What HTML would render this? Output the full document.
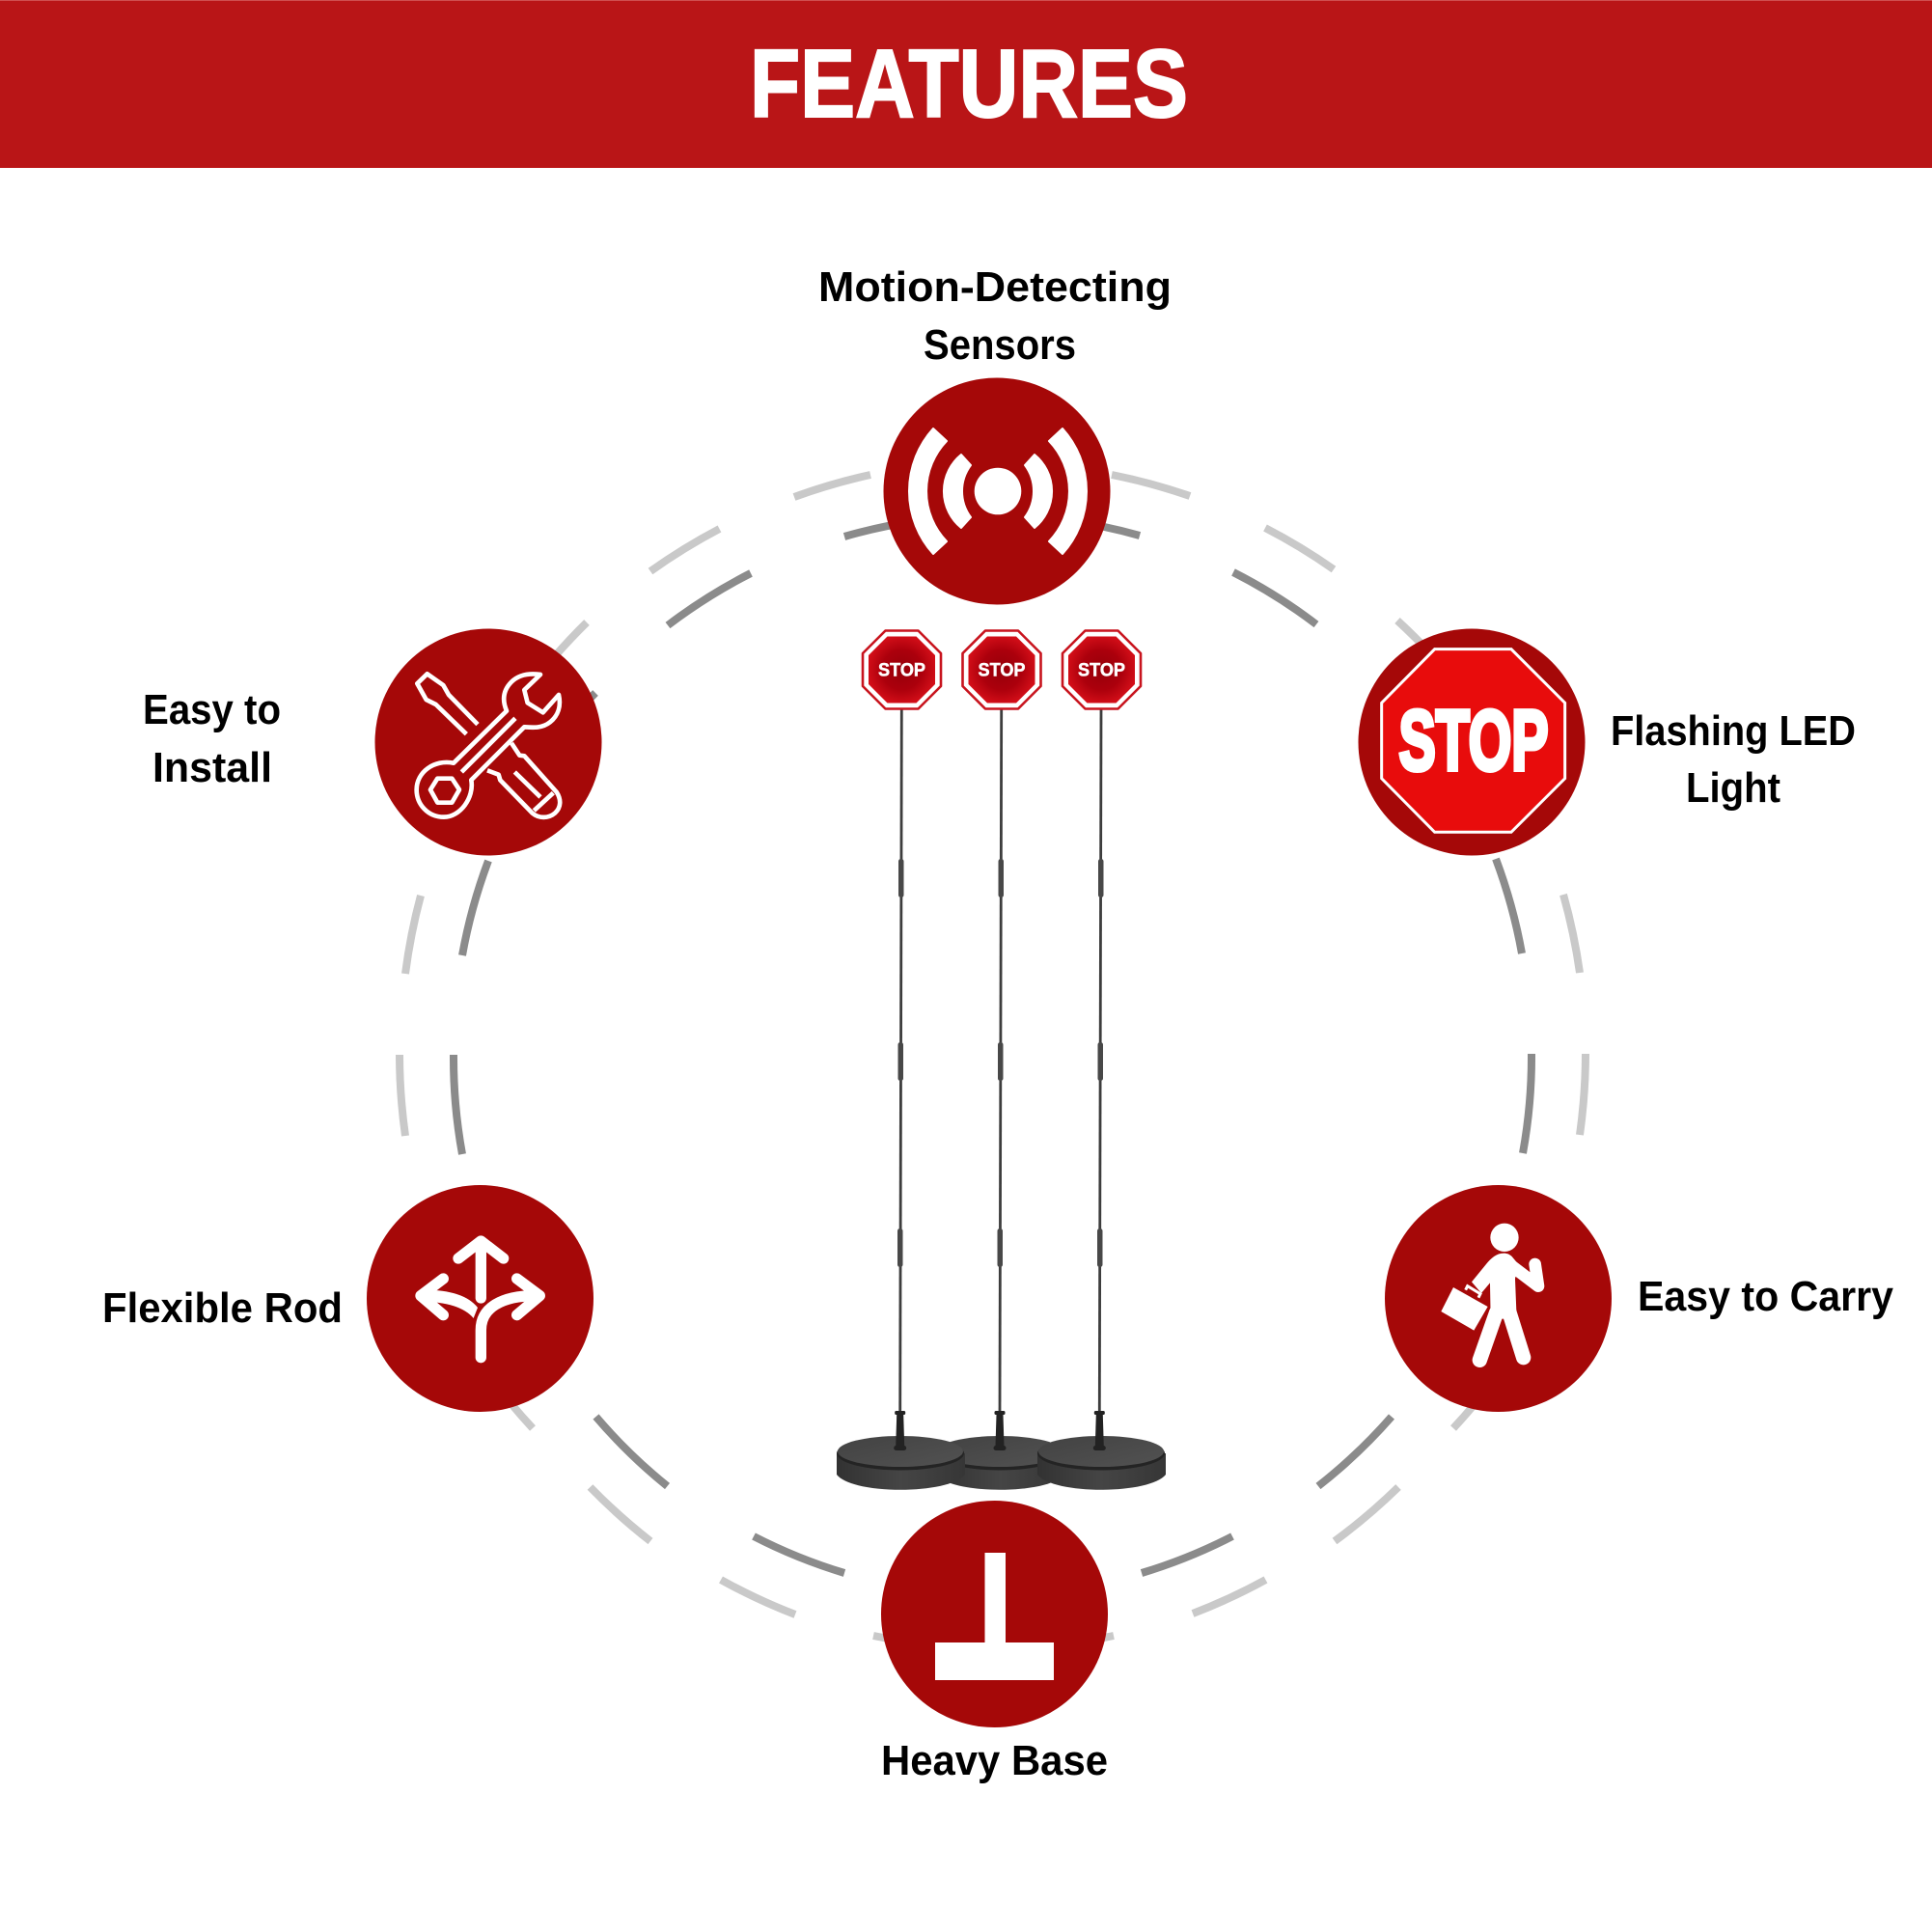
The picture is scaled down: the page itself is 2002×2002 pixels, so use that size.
<!DOCTYPE html>
<html><head><meta charset="utf-8"><title>Features</title>
<style>html,body{margin:0;padding:0;background:#fff}svg{display:block}text{font-family:"Liberation Sans",Arial,sans-serif;font-weight:700}</style>
</head><body>
<svg xmlns="http://www.w3.org/2000/svg" width="2002" height="2002" viewBox="0 0 2002 2002">
<defs>
<radialGradient id="sg" cx="50%" cy="50%" r="55%"><stop offset="0" stop-color="#96000a"/><stop offset=".55" stop-color="#ac000c"/><stop offset="1" stop-color="#d8101a"/></radialGradient>
<linearGradient id="side" x1="0" x2="1" y1="0" y2="0"><stop offset="0" stop-color="#323232"/><stop offset=".5" stop-color="#454545"/><stop offset="1" stop-color="#363636"/></linearGradient>
<linearGradient id="topb" x1="0" x2="1" y1="0" y2="1"><stop offset="0" stop-color="#424242"/><stop offset="1" stop-color="#525252"/></linearGradient>
<g id="sign">
<polygon points="-17,-40.5 17,-40.5 40.5,-17 40.5,17 17,40.5 -17,40.5 -40.5,17 -40.5,-17" fill="#fff" stroke="#c8141e" stroke-width="2.6" stroke-linejoin="round"/>
<polygon points="-15,-34.5 15,-34.5 34.5,-15 34.5,15 15,34.5 -15,34.5 -34.5,15 -34.5,-15" fill="url(#sg)"/>
<text x="0" y="6.7" text-anchor="middle" font-size="19" fill="#fff" stroke="#fff" stroke-width=".5" textLength="49" lengthAdjust="spacingAndGlyphs">STOP</text>
</g>
<g id="collar" fill="#222">
<rect x="-5.5" y="0" width="11" height="4" rx="1.5"/><path d="M-3.5,4 H3.5 L4.5,37 H-4.5Z"/><rect x="-6.5" y="36" width="13" height="5" rx="2.5"/>
</g>
<g id="base">
<path d="M-66,18 V40 C-50,61 50,61 67,40 V18 Z" fill="url(#side)"/>
<ellipse cx="0" cy="18" rx="66" ry="17.5" fill="#242424"/>
<ellipse cx="0" cy="16" rx="65" ry="16" fill="url(#topb)"/>
</g>
</defs>

<rect width="2002" height="174" fill="#b91517"/>
<rect width="2002" height="1" fill="#cf4f50"/>
<text x="777" y="121" font-size="100" fill="#fff" stroke="#fff" stroke-width="2" textLength="454" lengthAdjust="spacingAndGlyphs">FEATURES</text>

<!-- outer ring -->
<g fill="none" stroke="#c9c9c9" stroke-width="8">
<path d="M823,515 A614,614 0 0 1 902,492"/>
<path d="M1152,492 A614,614 0 0 1 1233,514"/>
<path d="M674,592 A614,614 0 0 1 745.5,548"/>
<path d="M1311,547 A614,614 0 0 1 1382,590"/>
<path d="M575,680 A614,614 0 0 1 608,645"/>
<path d="M1448,643 A614,614 0 0 1 1485,680"/>
<path d="M420,1009 A614,614 0 0 1 436,928"/>
<path d="M420,1177 A614,614 0 0 1 414,1093"/>
<path d="M1620,927 A614,614 0 0 1 1637,1008"/>
<path d="M1643,1092 A614,614 0 0 1 1637,1176"/>
<path d="M552,1480 A614,614 0 0 1 530,1455"/>
<path d="M674,1597 A614,614 0 0 1 611.5,1541"/>
<path d="M824,1673 A614,614 0 0 1 747,1637"/>
<path d="M1154,1695 A614,614 0 0 1 905,1695"/>
<path d="M1311.5,1637 A614,614 0 0 1 1236,1672"/>
<path d="M1449,1541 A614,614 0 0 1 1383,1597"/>
<path d="M1528,1455 A614,614 0 0 1 1506,1480"/>
</g>
<!-- inner ring -->
<g fill="none" stroke="#8b8b8b" stroke-width="8">
<path d="M875,556 A558,558 0 0 1 1181,555"/>
<path d="M692,648 A558,558 0 0 1 778,594"/>
<path d="M1278,593 A558,558 0 0 1 1364,647"/>
<path d="M560,785 A558,558 0 0 1 617,718"/>
<path d="M479,990 A558,558 0 0 1 506,892"/>
<path d="M479,1196 A558,558 0 0 1 470,1093"/>
<path d="M1550,890 A558,558 0 0 1 1577,988"/>
<path d="M1587,1092 A558,558 0 0 1 1578,1195"/>
<path d="M691.5,1540 A558,558 0 0 1 617.5,1468"/>
<path d="M875,1630 A558,558 0 0 1 781,1592"/>
<path d="M1277,1592 A558,558 0 0 1 1183,1630"/>
<path d="M1442,1468 A558,558 0 0 1 1366,1540"/>
</g>

<!-- circles -->
<g fill="#a50808">
<circle cx="1033" cy="509" r="117.5"/>
<circle cx="506" cy="769" r="117.5"/>
<circle cx="1525" cy="769" r="117.5"/>
<circle cx="497.5" cy="1345.5" r="117.5"/>
<circle cx="1552.5" cy="1345.5" r="117.5"/>
<circle cx="1030.5" cy="1672.5" r="117.5"/>
</g>

<!-- sensor icon -->
<circle cx="1034" cy="509" r="24.3" fill="#fff"/>
<g fill="#fff" stroke="#fff" stroke-width="2" stroke-linejoin="round">
<path d="M967,444 L981,457 A75,75 0 0 0 981,561 L967,574 A97,97 0 0 1 967,444 Z"/>
<path d="M1101,444 L1087,457 A75,75 0 0 1 1087,561 L1101,574 A97,97 0 0 0 1101,444 Z"/>
<path d="M996,471 L1006,482 A45,45 0 0 0 1006,536 L996,547 A49,49 0 0 1 996,471 Z"/>
<path d="M1072,471 L1062,482 A45,45 0 0 1 1062,536 L1072,547 A49,49 0 0 0 1072,471 Z"/>
</g>

<!-- tools icon -->
<g transform="translate(370,630) scale(.3333)" fill="none" stroke="#fff" stroke-width="14" stroke-linejoin="round" stroke-linecap="butt">
<path d="M375,362 L285,270 L268,240 L218,205 L187,235 L215,285 L245,300 L340,392"/>
<path d="M300,482 L465,320 C450,285 455,255 480,230 C505,205 540,203 570,207 L520,255 L530,295 L578,325 L627,270 C635,305 625,335 600,355 C575,375 545,372 520,370 L355,535 C365,590 320,650 270,650 C220,650 185,610 185,565 C185,510 240,470 300,482 Z"/>
<path d="M325,510 L492,343"/>
<polygon points="228,565 250,530 295,530 318,565 295,605 250,605"/>
<path d="M480,420 L505,458 L520,460 L620,572 C635,595 635,620 615,638 C595,655 565,655 545,638 L445,535 L440,518 L405,505"/>
<path d="M490,510 L570,588"/>
<path d="M550,630 L610,575"/>
</g>

<!-- big stop -->
<g transform="translate(1390,630) scale(.3333)">
<polygon points="290,128 528,128 695,295 695,530 528,697 290,697 125,530 125,295" fill="#e80c0c" stroke="#fff" stroke-width="9"/>
</g>
<text x="1449.5" y="797.5" font-size="88" fill="#fff" stroke="#fff" stroke-width="5" textLength="155" lengthAdjust="spacingAndGlyphs">STOP</text>

<!-- arrows icon -->
<g transform="translate(370,1210) scale(.3333)" fill="none" stroke="#fff" stroke-width="34" stroke-linecap="round" stroke-linejoin="round">
<path d="M385,405 V235"/>
<path d="M315,282 L385,228 L455,282"/>
<path d="M268,345 L198,398 L268,458"/>
<path d="M497,345 L568,398 L497,458"/>
<path d="M385,590 V505 C385,435 450,398 555,398"/>
<path d="M200,380 Q330,378 375,435 L362,468 Q320,418 200,416 Z" fill="#fff" stroke="none"/>
</g>

<!-- carry icon -->
<g transform="translate(1420,1210) scale(.3333)">
<circle cx="417" cy="217" r="44" fill="#fff"/>
<path fill="#fff" d="M415,266 C392,266 375,282 360,300 L315,355 L345,390 L372,358 L374,470 L455,470 L450,345 L460,300 L440,276 C432,269 425,266 415,266 Z"/>
<g fill="none" stroke="#fff" stroke-linecap="round" stroke-linejoin="round">
<path d="M392,450 L340,598" stroke-width="46"/>
<path d="M432,450 L476,590" stroke-width="46"/>
<path d="M432,300 L522,368 L512,300" stroke-width="38"/>
</g>
<polygon points="258,372 365,432 322,506 220,447" fill="#fff"/>
<path d="M296,380 L302,368 L342,392 L336,404" fill="none" stroke="#fff" stroke-width="9"/>
</g>

<!-- base icon -->
<path d="M1020.5,1609 H1042 V1702 H1092 V1741 H969 V1702 H1020.5 Z" fill="#fff"/>

<!-- product -->
<g fill="none" stroke="#3d3d3d" stroke-width="2.8">
<path d="M934.3,735 L932.7,1465"/>
<path d="M1037.7,735 L1036,1465"/>
<path d="M1141,735 L1139.3,1465"/>
</g>
<g fill="#484848">
<rect x="931" y="890" width="5.5" height="40" rx="2.5"/>
<rect x="1034.5" y="890" width="5.5" height="40" rx="2.5"/>
<rect x="1138" y="890" width="5.5" height="40" rx="2.5"/>
<rect x="930.5" y="1080" width="5.5" height="40" rx="2.5"/>
<rect x="1034" y="1080" width="5.5" height="40" rx="2.5"/>
<rect x="1137.5" y="1080" width="5.5" height="40" rx="2.5"/>
<rect x="930" y="1273" width="5.5" height="40" rx="2.5"/>
<rect x="1033.5" y="1273" width="5.5" height="40" rx="2.5"/>
<rect x="1137" y="1273" width="5.5" height="40" rx="2.5"/>
</g>
<use href="#base" transform="translate(1036,1488)"/>
<use href="#base" transform="translate(933,1488)"/>
<use href="#base" transform="translate(1141,1488)"/>
<use href="#collar" transform="translate(932.7,1462)"/>
<use href="#collar" transform="translate(1036,1462)"/>
<use href="#collar" transform="translate(1139.3,1462)"/>
<use href="#sign" transform="translate(934.5,694)"/>
<use href="#sign" transform="translate(1038,694)"/>
<use href="#sign" transform="translate(1141.5,694)"/>

<!-- labels -->
<g fill="#000" font-size="44">
<text x="848" y="312" textLength="366" lengthAdjust="spacingAndGlyphs">Motion-Detecting</text>
<text x="957" y="372" textLength="158" lengthAdjust="spacingAndGlyphs">Sensors</text>
<text x="148" y="750" textLength="143" lengthAdjust="spacingAndGlyphs">Easy to</text>
<text x="158" y="810" textLength="124" lengthAdjust="spacingAndGlyphs">Install</text>
<text x="1669" y="772" textLength="254" lengthAdjust="spacingAndGlyphs">Flashing LED</text>
<text x="1747" y="831" textLength="98" lengthAdjust="spacingAndGlyphs">Light</text>
<text x="106" y="1370" textLength="249" lengthAdjust="spacingAndGlyphs">Flexible Rod</text>
<text x="1697" y="1358" textLength="265" lengthAdjust="spacingAndGlyphs">Easy to Carry</text>
<text x="913" y="1839" textLength="235" lengthAdjust="spacingAndGlyphs">Heavy Base</text>
</g>
</svg>
</body></html>
